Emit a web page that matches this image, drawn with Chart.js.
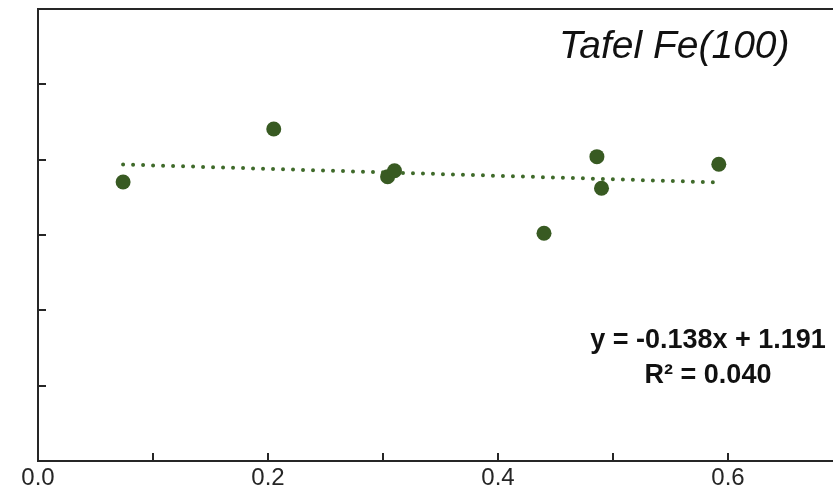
<!DOCTYPE html>
<html lang="en">
<head>
<meta charset="UTF-8" />
<title>Tafel Fe(100)</title>
<style>
  html, body {
    margin: 0;
    padding: 0;
    background: #fff;
    overflow: hidden;
  }
</style>
</head>
<body>
<canvas id="chart" width="833" height="494"></canvas>

<script src="https://cdn.jsdelivr.net/npm/chart.js"></script>
<script>
  // measured points
  const xValues = [0.074, 0.205, 0.304, 0.310, 0.440, 0.486, 0.490, 0.592];
  const yValues = [1.111, 1.322, 1.132, 1.156, 0.907, 1.212, 1.086, 1.182];

  // linear trend as printed on the chart
  const trendSlope = -0.138;
  const trendIntercept = 1.191;
  const trendLabel = 'y = -0.138x + 1.191';
  const r2Label = 'R² = 0.040';
  const titleText = 'Tafel Fe(100)';

  const xTickValues = [0.1, 0.2, 0.3, 0.4, 0.5, 0.6];
  const xLabelValues = [0, 0.2, 0.4, 0.6];
  const xTickLabels = ['0.0', '0.2', '0.4', '0.6'];
  const yTickValues = [0.3, 0.6, 0.9, 1.2, 1.5];

  const green = '#385a22';

  const points = xValues.map((x, i) => ({ x: x, y: yValues[i] }));
  const xMin = Math.min(...xValues);
  const xMax = Math.max(...xValues);
  const trend = [xMin, xMax].map(x => ({ x: x, y: trendSlope * x + trendIntercept }));

  // frame (right side is off the picture), inward ticks, tick labels and text
  const decor = {
    id: 'decor',
    afterDraw(chart) {
      const ctx = chart.ctx;
      const a = chart.chartArea;
      const xs = chart.scales.x;
      const ys = chart.scales.y;
      ctx.save();
      ctx.strokeStyle = '#262626';
      ctx.lineWidth = 2;
      ctx.beginPath();
      ctx.moveTo(chart.width, a.top);
      ctx.lineTo(a.left, a.top);
      ctx.lineTo(a.left, a.bottom);
      ctx.lineTo(chart.width, a.bottom);
      xTickValues.forEach(v => {
        const px = Math.round(xs.getPixelForValue(v));
        ctx.moveTo(px, a.bottom);
        ctx.lineTo(px, a.bottom - 8);
      });
      yTickValues.forEach(v => {
        const py = Math.round(ys.getPixelForValue(v));
        ctx.moveTo(a.left, py);
        ctx.lineTo(a.left + 8, py);
      });
      ctx.stroke();

      ctx.fillStyle = '#262626';
      ctx.textAlign = 'center';
      ctx.textBaseline = 'top';
      ctx.font = '24px "Liberation Sans", Arial, sans-serif';
      xLabelValues.forEach((v, i) => {
        ctx.fillText(xTickLabels[i], xs.getPixelForValue(v), a.bottom + 5);
      });

      ctx.fillStyle = '#111';
      ctx.textBaseline = 'alphabetic';
      ctx.textAlign = 'left';
      ctx.font = 'italic 39px "Liberation Sans", Arial, sans-serif';
      ctx.fillText(titleText, 559, 58);

      ctx.textAlign = 'center';
      ctx.font = 'bold 27px "Liberation Sans", Arial, sans-serif';
      ctx.fillText(trendLabel, 708, 348);
      ctx.fillText(r2Label, 708, 383);
      ctx.restore();
    }
  };

  new Chart(document.getElementById('chart'), {
    type: 'scatter',
    data: {
      datasets: [
        {
          label: 'points',
          data: points,
          backgroundColor: green,
          borderColor: green,
          pointRadius: 7.5,
          pointHoverRadius: 7.5,
          borderWidth: 0,
          order: 1
        },
        {
          type: 'line',
          label: 'trend',
          data: trend,
          borderColor: '#3f6a2a',
          borderWidth: 4,
          borderDash: [0, 10],
          borderCapStyle: 'round',
          pointRadius: 0,
          fill: false,
          order: 2
        }
      ]
    },
    options: {
      responsive: false,
      animation: false,
      events: [],
      layout: {
        autoPadding: false,
        padding: { left: 38, top: 9, right: 0, bottom: 33 }
      },
      plugins: {
        legend: { display: false },
        tooltip: { enabled: false }
      },
      scales: {
        x: {
          type: 'linear',
          display: false,
          min: 0,
          max: 0.6913
        },
        y: {
          type: 'linear',
          display: false,
          min: 0,
          max: 1.8
        }
      }
    },
    plugins: [decor]
  });
</script>
</body>
</html>
